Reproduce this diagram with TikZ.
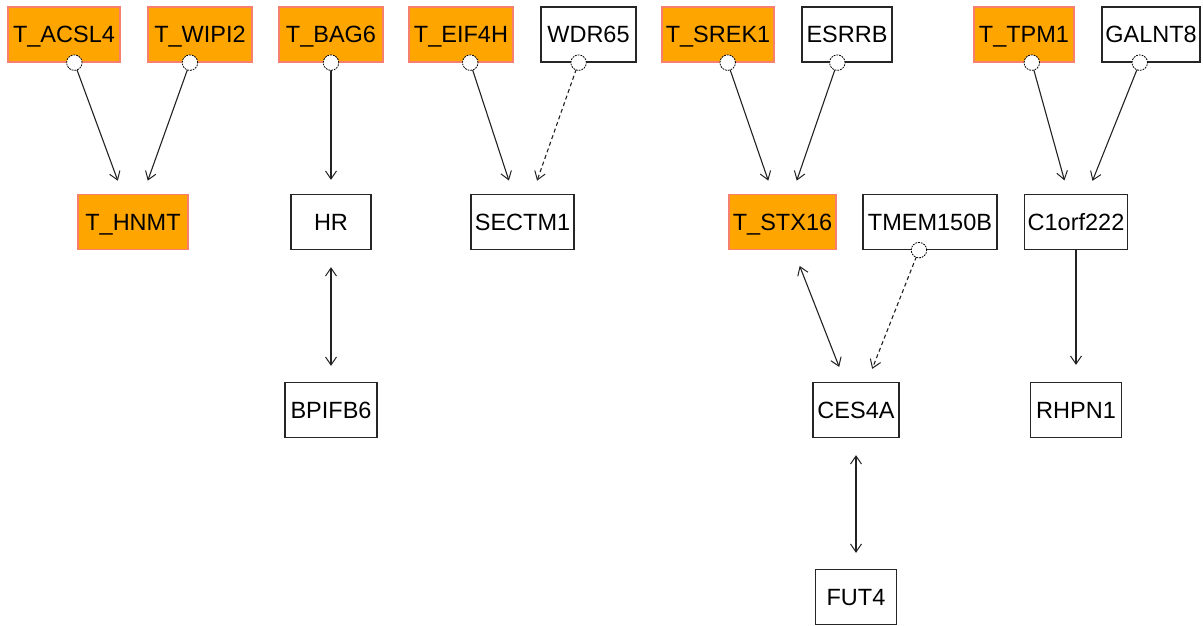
\documentclass[tikz,border=0pt]{standalone}
\usepackage{fontspec}
\setmainfont{Liberation Sans}
\usetikzlibrary{arrows.meta}
\definecolor{hitfill}{HTML}{FFA500}
\definecolor{hitedge}{HTML}{F77F6E}
\definecolor{linkcol}{HTML}{222222}
\begin{document}
\begin{tikzpicture}[x=1pt,y=-1pt,
  box/.style={draw=black!85, line width=1.3pt, fill=white, inner sep=0pt,
    minimum height=55pt, text height=16.8pt, text depth=0pt,
    font=\fontsize{23.5}{23.5}\selectfont, text=black},
  hit/.style={box, draw=hitedge, fill=hitfill},
  link/.style={draw=linkcol, line width=1.1pt},
  barb/.tip={Straight Barb[length=8pt,width=11pt,line width=1pt]},
  tip/.style={-barb, shorten >=14pt},
  both/.style={barb-barb, shorten >=16pt, shorten <=17pt},
  ring/.style={circle, draw=black, fill=white, minimum size=15.5pt, inner sep=0pt,
    line width=0.8pt, dash pattern=on 1.8pt off 1pt},
  weak/.style={dash pattern=on 4pt off 3pt}
]
\useasboundingbox (0,0) rectangle (1203,625);

% first row
\node[hit, minimum width=112pt] (acsl4) at (64,34.5) {T\_ACSL4};
\node[hit, minimum width=104pt] (wipi2) at (200,34.5) {T\_WIPI2};
\node[hit, minimum width=104pt] (bag6) at (331,34.5) {T\_BAG6};
\node[hit, minimum width=104pt] (eif4h) at (461,34.5) {T\_EIF4H};
\node[box, minimum width=95pt] (wdr65) at (588.5,34.5) {WDR65};
\node[hit, minimum width=112pt] (srek1) at (718,34.5) {T\_SREK1};
\node[box, minimum width=90pt] (esrrb) at (847,34.5) {ESRRB};
\node[hit, minimum width=100pt] (tpm1) at (1024,34.5) {T\_TPM1};
\node[box, minimum width=98pt] (galnt8) at (1151,34.5) {GALNT8};

% second row
\node[hit, minimum width=110pt] (hnmt) at (133,222) {T\_HNMT};
\node[box, minimum width=80pt] (hr) at (331,222) {HR};
\node[box, minimum width=103pt] (sectm1) at (522.5,222) {SECTM1};
\node[hit, minimum width=107pt] (stx16) at (782.5,222) {T\_STX16};
\node[box, minimum width=134pt] (tmem) at (930,222) {TMEM150B};
\node[box, minimum width=103pt] (c1orf) at (1076,222) {C1orf222};

% third row
\node[box, minimum width=92pt] (bpifb6) at (331,410) {BPIFB6};
\node[box, minimum width=86pt] (ces4a) at (856,410) {CES4A};
\node[box, minimum width=91pt] (rhpn1) at (1076,410) {RHPN1};

% fourth row
\node[box, minimum width=81pt] (fut4) at (856,597) {FUT4};

% connectors
\draw[link, tip] (acsl4) -- (hnmt) node[ring, pos=0] (r1) {};
\draw[link, tip] (wipi2) -- (hnmt) node[ring, pos=0] (r2) {};
\draw[link, tip] (bag6) -- (hr) node[ring, pos=0] (r3) {};
\draw[link, both] (hr) -- (bpifb6);
\draw[link, tip] (eif4h) -- (sectm1) node[ring, pos=0] (r4) {};
\draw[link, tip, weak] (wdr65) -- (sectm1) node[ring, pos=0] (r5) {};
\draw[link, tip] (srek1) -- (stx16) node[ring, pos=0] (r6) {};
\draw[link, tip] (esrrb) -- (stx16) node[ring, pos=0] (r7) {};
\draw[link, both] (stx16) -- (ces4a);
\draw[link, tip, weak] (tmem) -- (ces4a) node[ring, pos=0] (r8) {};
\draw[link, both] (ces4a) -- (fut4);
\draw[link, tip] (tpm1) -- (c1orf) node[ring, pos=0] (r9) {};
\draw[link, tip] (galnt8) -- (c1orf) node[ring, pos=0] (r10) {};
\draw[link, tip, shorten >=17pt] (c1orf) -- (rhpn1);
\end{tikzpicture}
\end{document}
